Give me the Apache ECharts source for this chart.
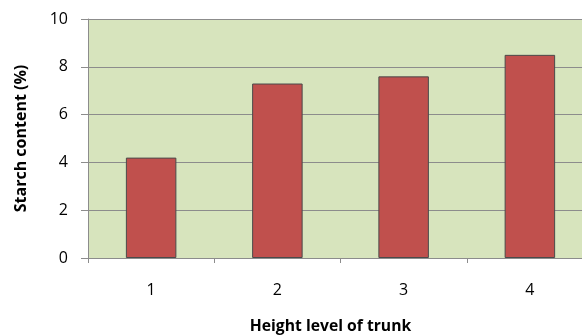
<!DOCTYPE html>
<html>
<head>
<meta charset="utf-8">
<script src="https://cdn.jsdelivr.net/npm/echarts@6/dist/echarts.min.js"></script>
<style>
    html, body { margin: 0; padding: 0; background: #fff; }
    #chart { width: 582px; height: 335px; }
</style>
</head>
<body>
<div id="chart"></div>
<script>
// 数据
const categories = ['1', '2', '3', '4'];
const starchValues = [4.2, 7.3, 7.6, 8.5];

const chartDom = document.getElementById('chart');
const myChart = echarts.init(chartDom);

const option = {
    animation: false,
    textStyle: {
        fontFamily: 'Open Sans'
    },
    grid: {
        left: 88,
        width: 505,
        top: 19,
        height: 239,
        outerBoundsMode: 'none',
        show: true,
        backgroundColor: '#d7e4bd',
        borderWidth: 0
    },
    xAxis: {
        type: 'category',
        data: categories,
        name: 'Height level of trunk',
        nameLocation: 'middle',
        nameGap: 61,
        nameTextStyle: {
            fontSize: 15.7,
            fontWeight: 'bold',
            color: '#000',
            padding: [0, 0, 0, -20]
        },
        axisLine: {
            lineStyle: { color: '#8c8c8c' }
        },
        axisTick: {
            show: true,
            length: 5,
            lineStyle: { color: '#8c8c8c' }
        },
        axisLabel: {
            fontSize: 16,
            color: '#000',
            margin: 24
        }
    },
    yAxis: {
        type: 'value',
        min: 0,
        max: 10,
        interval: 2,
        name: 'Starch content (%)',
        nameLocation: 'middle',
        nameGap: 59,
        nameTextStyle: {
            fontSize: 16,
            fontWeight: 'bold',
            color: '#000'
        },
        axisLine: {
            show: true,
            lineStyle: { color: '#8c8c8c' }
        },
        axisTick: {
            show: true,
            length: 7,
            lineStyle: { color: '#8c8c8c' }
        },
        axisLabel: {
            fontSize: 16,
            color: '#000',
            margin: 20
        },
        splitLine: {
            lineStyle: { color: '#8c8c8c', width: 1 }
        }
    },
    series: [
        {
            type: 'bar',
            data: starchValues,
            barWidth: '40%',
            itemStyle: {
                color: '#c0504d',
                borderColor: '#4a4a4a',
                borderWidth: 1
            }
        }
    ]
};

myChart.setOption(option);
</script>
</body>
</html>
